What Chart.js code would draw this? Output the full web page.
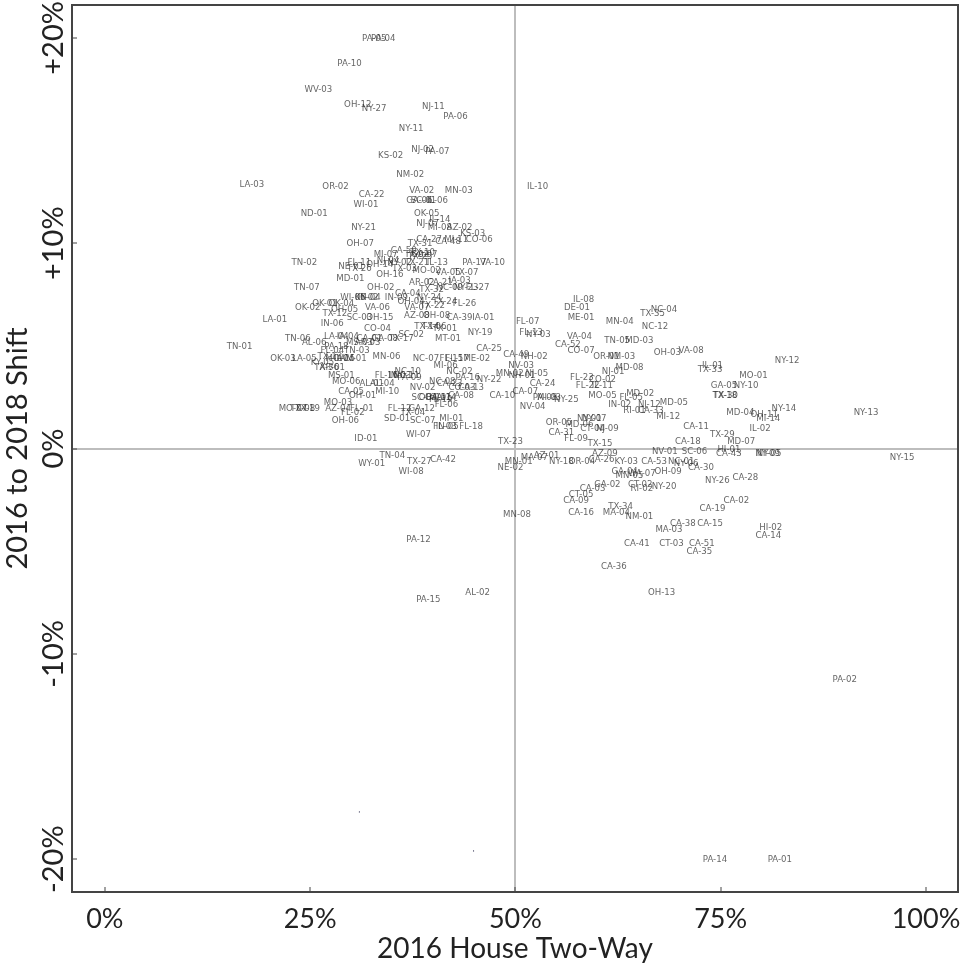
<!DOCTYPE html>
<html>
<head>
<meta charset="utf-8">
<title>2016 House Two-Way vs 2016 to 2018 Shift</title>
<script src="https://cdn.jsdelivr.net/npm/chart.js@4"></script>
<style>
body { margin: 0; background: #fff; }
canvas { display: block; filter: blur(0.45px); }
</style>
</head>
<body>
<canvas id="shift-chart" width="962" height="963"></canvas>
<script>
// District labels, 2016 two-way share (%) and 2016 to 2018 shift (points)
var districts = [
    'PA-05','PA-04','PA-10','WV-03','OH-12','NY-27','NJ-11','PA-06','NY-11','NJ-02',
    'PA-07','KS-02','NM-02','LA-03','OR-02','CA-22','VA-02','MN-03','GA-06','SC-01',
    'IL-06','WI-01','ND-01','IL-10','OK-05','IL-14','NJ-07','MI-08','AZ-02','NY-21',
    'KS-03','TX-31','CA-27','CA-48','MI-11','CO-06','OH-07','MI-07','CA-50','TX-02',
    'TX-10','TX-25','GA-07','TN-02','FL-11','NE-01','TX-26','NJ-04','OH-14','IL-13',
    'NY-02','TX-21','TX-03','MO-02','PA-17','VA-10','VA-05','TX-07','OH-16','MD-01',
    'TN-07','OH-02','AR-02','CA-21','IA-03','TX-32','NC-09','NY-23','FL-27','WI-06',
    'KY-02','IN-04','IN-09','CA-04','OH-04','NY-24','TX-24','FL-26','TX-22','OK-02',
    'OK-01','OK-04','OH-05','TX-12','SC-03','OH-15','VA-06','VA-07','AZ-08','OH-08',
    'CA-39','IA-01','IN-06','LA-01','TX-06','TX-14','TX-01','MT-01','NY-19','CO-04',
    'CA-01','GA-08','TX-17','SC-02','LA-04','IA-04','MS-03','TN-06','AL-06','TN-01',
    'PA-18','FL-04','TN-03','AR-03','OK-03','LA-05','TX-13','MO-04','WV-01','IL-15',
    'KY-05','TX-36','AR-01','MN-06','NC-07','FL-15','FL-17','ME-02','MI-06','NC-02',
    'PA-16','NY-22','MS-01','MO-06','NC-10','FL-16','IN-03','NC-11','PA-09','AL-01',
    'AL-04','MI-10','NC-08','NV-02','CA-23','CA-13','CO-03','SC-04','OH-10','GA-11',
    'GA-14','CA-08','FL-06','FL-19','CA-05','OH-01','MO-03','FL-01','FL-02','AZ-04',
    'MO-07','TX-08','TX-19','OH-06','ID-01','FL-12','GA-12','TX-04','SD-01','SC-07',
    'MI-01','FL-18','FL-03','IN-05','WI-07','TX-23','TN-04','WY-01','TX-27','CA-42',
    'WI-08','MN-01','NE-02','MN-08','PA-12','PA-15','AL-02','IL-08','DE-01','ME-01',
    'MN-04','NC-04','TX-35','NC-12','FL-07','FL-13','NY-03','VA-04','CA-52','TN-05',
    'MD-03','CO-07','OH-03','VA-08','OR-01','NM-03','CA-49','NH-02','NV-03','MD-08',
    'NJ-01','NJ-05','MN-02','NH-01','CA-24','FL-23','CO-02','FL-22','IL-11','CA-07',
    'CA-10','MO-05','NV-04','PA-08','MI-03','NY-25','MD-02','FL-05','NJ-12','MD-05',
    'IN-02','RI-01','CA-33','MI-12','OR-05','MD-06','NY-01','NY-07','CT-04','NJ-09',
    'CA-31','FL-09','TX-15','IL-01','TX-33','NY-12','MO-01','GA-05','NY-10','TX-18',
    'TX-30','NY-14','MD-04','OH-11','MI-14','IL-02','CA-11','TX-29','CA-18','MD-07',
    'HI-01','CA-43','NY-09','NY-05','SC-06','NV-01','NY-13','NY-15','PA-02','PA-14',
    'PA-01','MA-07','AZ-01','NY-18','OR-04','AZ-09','CA-26','KY-03','CA-53','NC-01',
    'NY-06','CA-30','GA-04','MN-05','WA-07','OH-09','CT-02','RI-02','NY-20','NY-26',
    'CA-28','GA-02','CA-03','CT-05','CA-09','CA-02','CA-19','TX-34','MA-04','CA-16',
    'NM-01','CA-38','CA-15','MA-03','HI-02','CA-14','CA-41','CT-03','CA-51','CA-35',
    'CA-36','OH-13','CA-25'
];
var twoWay = [
    32.8,33.9,29.8,26.0,30.8,32.8,40.0,42.7,37.3,38.7,
    40.5,34.8,37.2,17.9,28.1,32.5,38.6,43.1,38.3,38.8,
    40.5,31.8,25.5,52.7,39.2,40.8,39.3,40.8,43.2,31.5,
    44.8,38.4,39.5,41.8,42.8,45.6,31.1,34.2,36.4,38.0,
    38.7,38.4,38.9,24.3,31.0,30.0,31.0,34.5,33.5,40.5,
    35.9,38.0,36.5,39.2,45.0,47.2,41.8,44.0,34.7,29.9,
    24.6,33.6,38.6,40.8,43.2,39.8,42.0,44.0,45.4,30.2,
    31.9,32.2,35.5,36.9,37.3,39.5,41.4,43.8,39.9,24.7,
    26.8,28.8,29.2,28.0,31.0,33.5,33.2,38.0,38.0,40.4,
    43.2,46.1,27.7,20.7,40.1,39.2,41.4,41.8,45.7,33.2,
    32.2,34.1,36.1,37.3,28.2,29.6,31.0,23.5,25.5,16.4,
    28.2,27.7,30.7,32.0,21.7,24.3,27.4,28.6,30.2,29.2,
    26.5,27.0,27.7,34.3,39.1,42.2,42.9,45.3,41.5,43.2,
    44.2,46.8,28.8,29.4,36.9,34.3,35.9,36.7,37.1,32.5,
    33.8,34.4,41.1,38.7,42.0,44.6,43.5,38.9,39.9,40.6,
    41.2,43.4,41.6,40.9,30.0,31.4,28.4,31.3,30.2,28.4,
    22.9,24.1,24.7,29.3,31.8,35.9,38.6,37.5,35.6,38.7,
    42.2,44.6,41.4,41.7,38.2,49.4,35.0,32.5,38.3,41.2,
    37.3,50.4,49.4,50.2,38.2,39.4,45.4,58.3,57.5,58.0,
    62.7,68.1,66.7,67.0,51.5,51.9,52.8,57.8,56.4,62.4,
    65.1,58.0,68.5,71.4,61.1,62.9,50.1,52.3,50.7,63.9,
    61.9,52.6,49.3,50.8,53.3,58.1,60.6,58.8,60.6,51.2,
    48.4,60.6,52.1,53.6,54.1,56.2,65.2,64.1,66.3,69.3,
    62.7,64.5,66.5,68.6,55.3,57.8,59.0,59.6,59.4,61.2,
    55.6,57.4,60.3,74.0,73.7,83.1,79.0,75.4,78.1,75.5,
    75.6,82.7,77.4,80.3,80.8,79.8,72.0,75.2,71.0,77.5,
    76.0,76.0,80.7,80.9,71.8,68.2,92.7,97.1,90.1,74.3,
    82.2,52.3,53.8,55.6,58.1,60.9,60.5,63.5,66.9,70.2,
    70.8,72.6,63.3,63.9,65.4,68.6,65.2,65.4,68.1,74.6,
    78.0,61.2,59.4,58.0,57.4,76.9,74.0,62.8,62.3,58.0,
    65.1,70.4,73.7,68.7,81.1,80.8,64.8,69.0,72.7,72.4,
    62.0,67.8,46.8
];
var shift = [
    20.0,20.0,18.8,17.5,16.8,16.6,16.7,16.2,15.6,14.6,
    14.5,14.3,13.4,12.9,12.8,12.4,12.6,12.6,12.1,12.1,
    12.1,11.9,11.5,12.8,11.5,11.2,11.0,10.8,10.8,10.8,
    10.5,10.0,10.2,10.1,10.2,10.2,10.0,9.5,9.7,9.5,
    9.6,9.4,9.5,9.1,9.1,8.9,8.8,9.2,9.0,9.1,
    9.1,9.1,8.8,8.7,9.1,9.1,8.6,8.6,8.5,8.3,
    7.9,7.9,8.1,8.1,8.2,7.8,7.9,7.9,7.9,7.4,
    7.4,7.4,7.4,7.6,7.2,7.4,7.2,7.1,7.0,6.9,
    7.1,7.1,6.8,6.6,6.4,6.4,6.9,6.9,6.5,6.5,
    6.4,6.4,6.1,6.3,6.0,6.0,5.9,5.4,5.7,5.9,
    5.4,5.4,5.4,5.6,5.5,5.5,5.2,5.4,5.2,5.0,
    5.0,4.8,4.8,5.2,4.4,4.4,4.5,4.4,4.4,4.4,
    4.2,4.0,4.0,4.5,4.4,4.4,4.4,4.4,4.1,3.8,
    3.5,3.4,3.6,3.3,3.8,3.6,3.6,3.6,3.5,3.2,
    3.2,2.8,3.3,3.0,3.2,3.0,3.0,2.5,2.5,2.5,
    2.5,2.6,2.2,2.4,2.8,2.6,2.3,2.0,1.8,2.0,
    2.0,2.0,2.0,1.4,0.5,2.0,2.0,1.8,1.5,1.4,
    1.5,1.1,1.1,1.1,0.7,0.4,-0.3,-0.7,-0.6,-0.5,
    -1.1,-0.6,-0.9,-3.2,-4.4,-7.3,-7.0,7.3,6.9,6.4,
    6.2,6.8,6.6,6.0,6.2,5.7,5.6,5.5,5.1,5.3,
    5.3,4.8,4.7,4.8,4.5,4.5,4.6,4.5,4.1,4.0,
    3.8,3.7,3.7,3.6,3.2,3.5,3.4,3.1,3.1,2.8,
    2.6,2.6,2.1,2.5,2.5,2.4,2.7,2.5,2.2,2.3,
    2.2,1.9,1.9,1.6,1.3,1.2,1.5,1.5,1.0,1.0,
    0.8,0.5,0.3,4.1,3.9,4.3,3.6,3.1,3.1,2.6,
    2.6,2.0,1.8,1.7,1.5,1.0,1.1,0.7,0.4,0.4,
    0.0,-0.2,-0.2,-0.2,-0.1,-0.1,1.8,-0.4,-11.2,-20.0,
    -20.0,-0.4,-0.3,-0.6,-0.6,-0.2,-0.5,-0.6,-0.6,-0.6,
    -0.7,-0.9,-1.1,-1.3,-1.2,-1.1,-1.7,-1.9,-1.8,-1.5,
    -1.4,-1.7,-1.9,-2.2,-2.5,-2.5,-2.9,-2.8,-3.1,-3.1,
    -3.3,-3.6,-3.6,-3.9,-3.8,-4.2,-4.6,-4.6,-4.6,-5.0,
    -5.7,-7.0,4.9
];
var strayX = [44.9, 31.0];
var strayY = [-19.6, -17.7];
var xTicks = [0, 25, 50, 75, 100];
var yTicks = [-20, -10, 0, 10, 20];

// Scatter points are invisible, this writes the district name at each one
var districtLabels = {
    id: 'districtLabels',
    afterDatasetsDraw: function(chart) {
        var c = chart.ctx;
        var xs = chart.scales.x;
        var ys = chart.scales.y;
        c.save();
        c.font = '8.6px "DejaVu Sans"';
        c.fillStyle = 'rgba(40,40,40,0.72)';
        c.textAlign = 'center';
        c.textBaseline = 'middle';
        districts.forEach(function(name, i) {
            c.fillText(name, xs.getPixelForValue(twoWay[i]), ys.getPixelForValue(shift[i]) + 1);
        });
        // top and right spines
        var a = chart.chartArea;
        c.strokeStyle = '#444';
        c.lineWidth = 2;
        c.strokeRect(a.left, a.top, a.right - a.left, a.bottom - a.top);
        c.restore();
    }
};

// Tick labels hang past the plot, so drop the padding Chart.js reserves for them
function clearPadding(s) {
    s.paddingLeft = 0;
    s.paddingRight = 0;
    s.paddingTop = 0;
    s.paddingBottom = 0;
}

var ctx = document.getElementById('shift-chart').getContext('2d');
var shiftChart = new Chart(ctx, {
    type: 'scatter',
    data: {
        datasets: [{
            data: districts.map(function(d, i) { return { x: twoWay[i], y: shift[i] }; }),
            pointRadius: 0
        }, {
            data: strayX.map(function(v, i) { return { x: v, y: strayY[i] }; }),
            pointRadius: 0.6,
            backgroundColor: '#335',
            borderWidth: 0
        }]
    },
    plugins: [districtLabels],
    options: {
        responsive: false,
        animation: false,
        layout: { padding: { top: 5, right: 3, left: 0, bottom: 0 } },
        plugins: { legend: { display: false }, tooltip: { enabled: false } },
        scales: {
            x: {
                type: 'linear',
                min: -4,
                max: 103.9,
                afterFit: function(s) { s.height = 71; clearPadding(s); },
                afterBuildTicks: function(s) { s.ticks = xTicks.map(function(v) { return { value: v }; }); },
                grid: {
                    color: function(g) { return g.tick && g.tick.value === 50 ? '#bdbdbd' : 'transparent'; },
                    lineWidth: 2,
                    tickColor: '#444',
                    tickLength: -5,
                    tickWidth: 1
                },
                border: { display: false },
                ticks: {
                    color: '#222',
                    font: { family: 'Lato', size: 27 },
                    padding: 16,
                    maxRotation: 0,
                    callback: function(v) { return v + '%'; }
                },
                title: {
                    display: true,
                    text: '2016 House Two-Way',
                    color: '#222',
                    font: { family: 'Lato', size: 28 },
                    padding: { top: 0, bottom: -3 }
                }
            },
            y: {
                type: 'linear',
                min: -21.6,
                max: 21.6,
                afterFit: function(s) { s.width = 72; clearPadding(s); },
                afterBuildTicks: function(s) { s.ticks = yTicks.map(function(v) { return { value: v }; }); },
                grid: {
                    color: function(g) { return g.tick && g.tick.value === 0 ? '#bdbdbd' : 'transparent'; },
                    lineWidth: 2,
                    tickColor: '#444',
                    tickLength: -5,
                    tickWidth: 1
                },
                border: { display: false },
                ticks: {
                    color: '#222',
                    font: { family: 'Lato', size: 29 },
                    padding: -13,
                    crossAlign: 'center',
                    minRotation: 90,
                    maxRotation: 90,
                    callback: function(v) { return v > 0 ? '+' + v + '%' : v + '%'; }
                },
                title: {
                    display: true,
                    text: '2016 to 2018 Shift',
                    color: '#222',
                    font: { family: 'Lato', size: 29 },
                    padding: { top: 0, bottom: 0 }
                }
            }
        }
    }
});
</script>
</body>
</html>
